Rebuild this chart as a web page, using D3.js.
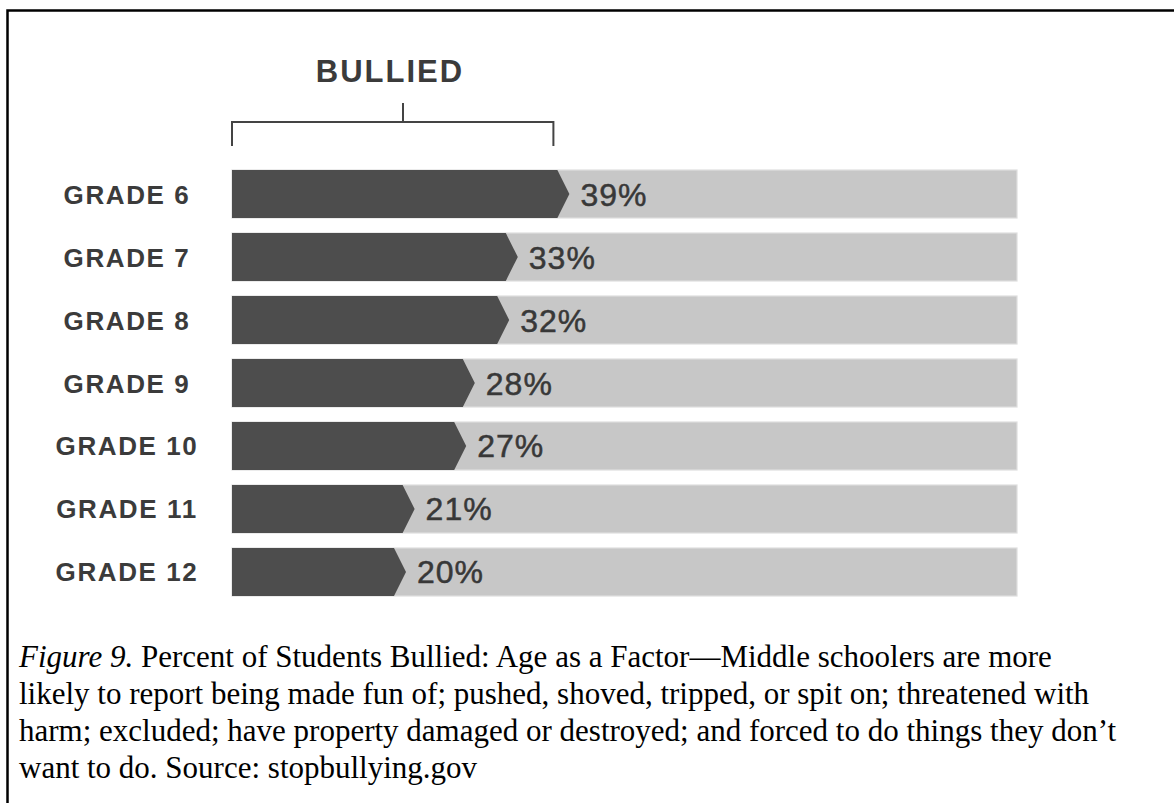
<!DOCTYPE html>
<html>
<head>
<meta charset="utf-8">
<script src="https://cdn.jsdelivr.net/npm/d3@7"></script>
<style>
  body { margin: 0; background: #fff; }
  svg { display: block; }
</style>
</head>
<body>
<div id="main"></div>
<script>
// data
const grades = ["GRADE 6", "GRADE 7", "GRADE 8", "GRADE 9", "GRADE 10", "GRADE 11", "GRADE 12"]
const bullied = [39, 33, 32, 28, 27, 21, 20]
const groupLabel = "BULLIED"
const captionLines = [
  ["Figure 9.", " Percent of Students Bullied: Age as a Factor\u2014Middle schoolers are more"],
  ["", "likely to report being made fun of; pushed, shoved, tripped, or spit on; threatened with"],
  ["", "harm; excluded; have property damaged or destroyed; and forced to do things they don\u2019t"],
  ["", "want to do. Source: stopbullying.gov"]
]

let width = 1174
let height = 803
let arrow = 12
let trackEnd = 1017

let svg = d3.select("#main")
            .append("svg")
            .attr("width", width)
            .attr("height", height)

// frame (left + top edge only, the rest is cut off)
svg.append("path")
   .attr("d", "M7.5," + height + "V10.5H" + width)
   .attr("fill", "none")
   .attr("stroke", "#000")
   .attr("stroke-width", 2.5)

const xScale = d3.scaleLinear().domain([0, 100]).range([232, 1092])
const yScale = d3.scaleBand().domain(grades).range([170, 596]).paddingInner(0.238)
const bh = yScale.bandwidth()

// grey track
svg.selectAll("rect.track")
   .data(grades)
   .enter()
   .append("rect")
   .attr("class", "track")
   .attr("x", xScale(0))
   .attr("y", (d) => yScale(d))
   .attr("width", trackEnd - xScale(0))
   .attr("height", bh)
   .style("fill", "#c7c7c7")
   .style("stroke", "#dedede")
   .style("stroke-width", 1.2)

// dark arrow bars
svg.selectAll("path.bar")
   .data(bullied)
   .enter()
   .append("path")
   .attr("class", "bar")
   .attr("d", (d, i) => {
      let y0 = yScale(grades[i])
      let x0 = xScale(0)
      let x1 = xScale(d) + 2
      return "M" + x0 + "," + y0 + "H" + (x1 - arrow) + "L" + x1 + "," + (y0 + bh / 2) +
             "L" + (x1 - arrow) + "," + (y0 + bh) + "H" + x0 + "Z"
   })
   .style("fill", "#4d4d4d")

// value labels
svg.selectAll("text.val")
   .data(bullied)
   .enter()
   .append("text")
   .attr("class", "val")
   .attr("x", (d) => xScale(d) + 13)
   .attr("y", (d, i) => yScale(grades[i]) + bh / 2 + 11.5)
   .text((d) => d + "%")
   .style("font-family", "'Liberation Sans', Arial, sans-serif")
   .style("font-size", "32px")
   .style("letter-spacing", "1px")
   .style("fill", "#383838")
   .style("stroke", "#383838")
   .style("stroke-width", 0.5)

// grade labels
svg.selectAll("text.grade")
   .data(grades)
   .enter()
   .append("text")
   .attr("class", "grade")
   .attr("x", 127)
   .attr("y", (d) => yScale(d) + bh / 2 + 9.5)
   .attr("text-anchor", "middle")
   .text((d) => d)
   .style("font-family", "'Liberation Sans', Arial, sans-serif")
   .style("font-weight", "bold")
   .style("font-size", "26px")
   .style("letter-spacing", "1.6px")
   .style("fill", "#3b3b3b")

// bracket over the first bar
let bx0 = xScale(0)
let bx1 = xScale(bullied[0]) - arrow - 2
let btick = 403
svg.append("path")
   .attr("d", "M" + bx0 + ",146V122H" + bx1 + "V146M" + btick + ",122V103")
   .attr("fill", "none")
   .attr("stroke", "#444")
   .attr("stroke-width", 2)

svg.append("text")
   .attr("x", 390)
   .attr("y", 82)
   .attr("text-anchor", "middle")
   .text(groupLabel)
   .style("font-family", "'Liberation Sans', Arial, sans-serif")
   .style("font-weight", "bold")
   .style("font-size", "31px")
   .style("letter-spacing", "2px")
   .style("fill", "#3b3b3b")

// caption
let cap = svg.append("g")
             .style("font-family", "'Liberation Serif', 'Times New Roman', serif")
             .style("font-size", "31px")
             .style("fill", "#000")
captionLines.forEach((ln, i) => {
  let t = cap.append("text").attr("x", 19).attr("y", 667 + i * 37)
  if (ln[0]) t.append("tspan").style("font-style", "italic").text(ln[0])
  t.append("tspan").text(ln[1])
})
</script>
</body>
</html>
